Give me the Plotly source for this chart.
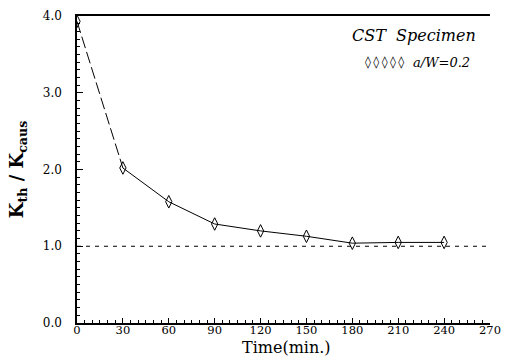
import plotly.graph_objects as go

time_min = [0, 30, 60, 90, 120, 150, 180, 210, 240]
k_ratio = [3.93, 2.02, 1.58, 1.29, 1.20, 1.13, 1.04, 1.05, 1.05]
ref_x = [0, 270]
ref_y = [1.0, 1.0]
x_ticks = [0, 30, 60, 90, 120, 150, 180, 210, 240, 270]
y_ticks = [0.0, 1.0, 2.0, 3.0, 4.0]

W, H = 509, 357
l, r, t, b = 77, 19, 16, 34
pw, ph = W - l - r, H - t - b


def px_to_paper(px, py):
    return (px - l) / pw, 1 - (py - t) / ph


fig = go.Figure()

fig.add_trace(go.Scatter(x=ref_x, y=ref_y, mode="lines",
                         line=dict(color="black", width=1, dash="4px,5px"),
                         showlegend=False, hoverinfo="skip"))
fig.add_trace(go.Scatter(x=time_min[:2], y=k_ratio[:2], mode="lines",
                         line=dict(color="black", width=1, dash="12px,4px"),
                         showlegend=False))
fig.add_trace(go.Scatter(x=time_min[1:], y=k_ratio[1:], mode="lines",
                         line=dict(color="black", width=1),
                         showlegend=False))
fig.add_trace(go.Scatter(x=time_min, y=k_ratio, mode="markers",
                         marker=dict(symbol="diamond-tall-open", size=9,
                                     color="black", line=dict(width=1, color="black")),
                         showlegend=False))

serif = "DejaVu Serif"
thin = "\u2009"

ann = []
for text, px, py, fam, size, anchor in [
    ("<i>CST  Specimen</i>", 478, 35, serif, 16, "right"),
    (thin.join(["◊"] * 5), 363, 62, "DejaVu Sans", 12, "left"),
    ("<i>a/W=0.2</i>", 472, 62, serif, 13, "right"),
    ("Time(min.)", 286, 347, serif, 16, "center"),
]:
    ax, ay = px_to_paper(px, py)
    ann.append(dict(x=ax, y=ay, xref="paper", yref="paper", text=text,
                    showarrow=False, xanchor=anchor, yanchor="middle",
                    font=dict(family=fam, size=size, color="black")))

fig.update_layout(
    width=W, height=H,
    margin=dict(l=l, r=r, t=t, b=b),
    paper_bgcolor="white", plot_bgcolor="white",
    font=dict(family=serif, color="black", size=12),
    xaxis=dict(range=[0, 270], tickvals=x_ticks, ticktext=[str(v) for v in x_ticks],
               showgrid=False, zeroline=False, showline=True, linecolor="black",
               linewidth=1.5, mirror=True, ticks="inside", ticklen=5, tickwidth=1,
               tickcolor="black", ticklabelstandoff=-5,
               minor=dict(dtick=5, ticks="inside", ticklen=3, tickcolor="black", tickwidth=1),
               tickfont=dict(family=serif, size=11.5, color="black"),
               automargin=False),
    yaxis=dict(range=[0, 4], tickvals=y_ticks, ticktext=[f"{v:.1f}" for v in y_ticks],
               showgrid=False, zeroline=False, showline=True, linecolor="black",
               linewidth=1.5, ticks="inside", ticklen=6, tickwidth=1, tickcolor="black",
               ticklabelstandoff=11,
               minor=dict(dtick=0.1, ticks="inside", ticklen=3, tickcolor="black", tickwidth=1),
               tickfont=dict(family=serif, size=12, color="black"),
               title=dict(text="<b>K<sub>th</sub> / K<sub>caus</sub></b>",
                          font=dict(family=serif, size=18), standoff=14),
               automargin=False),
    annotations=ann,
)

fig.write_html("out.html", config={"displayModeBar": False},
               post_script="document.body.style.margin='0';document.body.style.overflow='hidden';")
